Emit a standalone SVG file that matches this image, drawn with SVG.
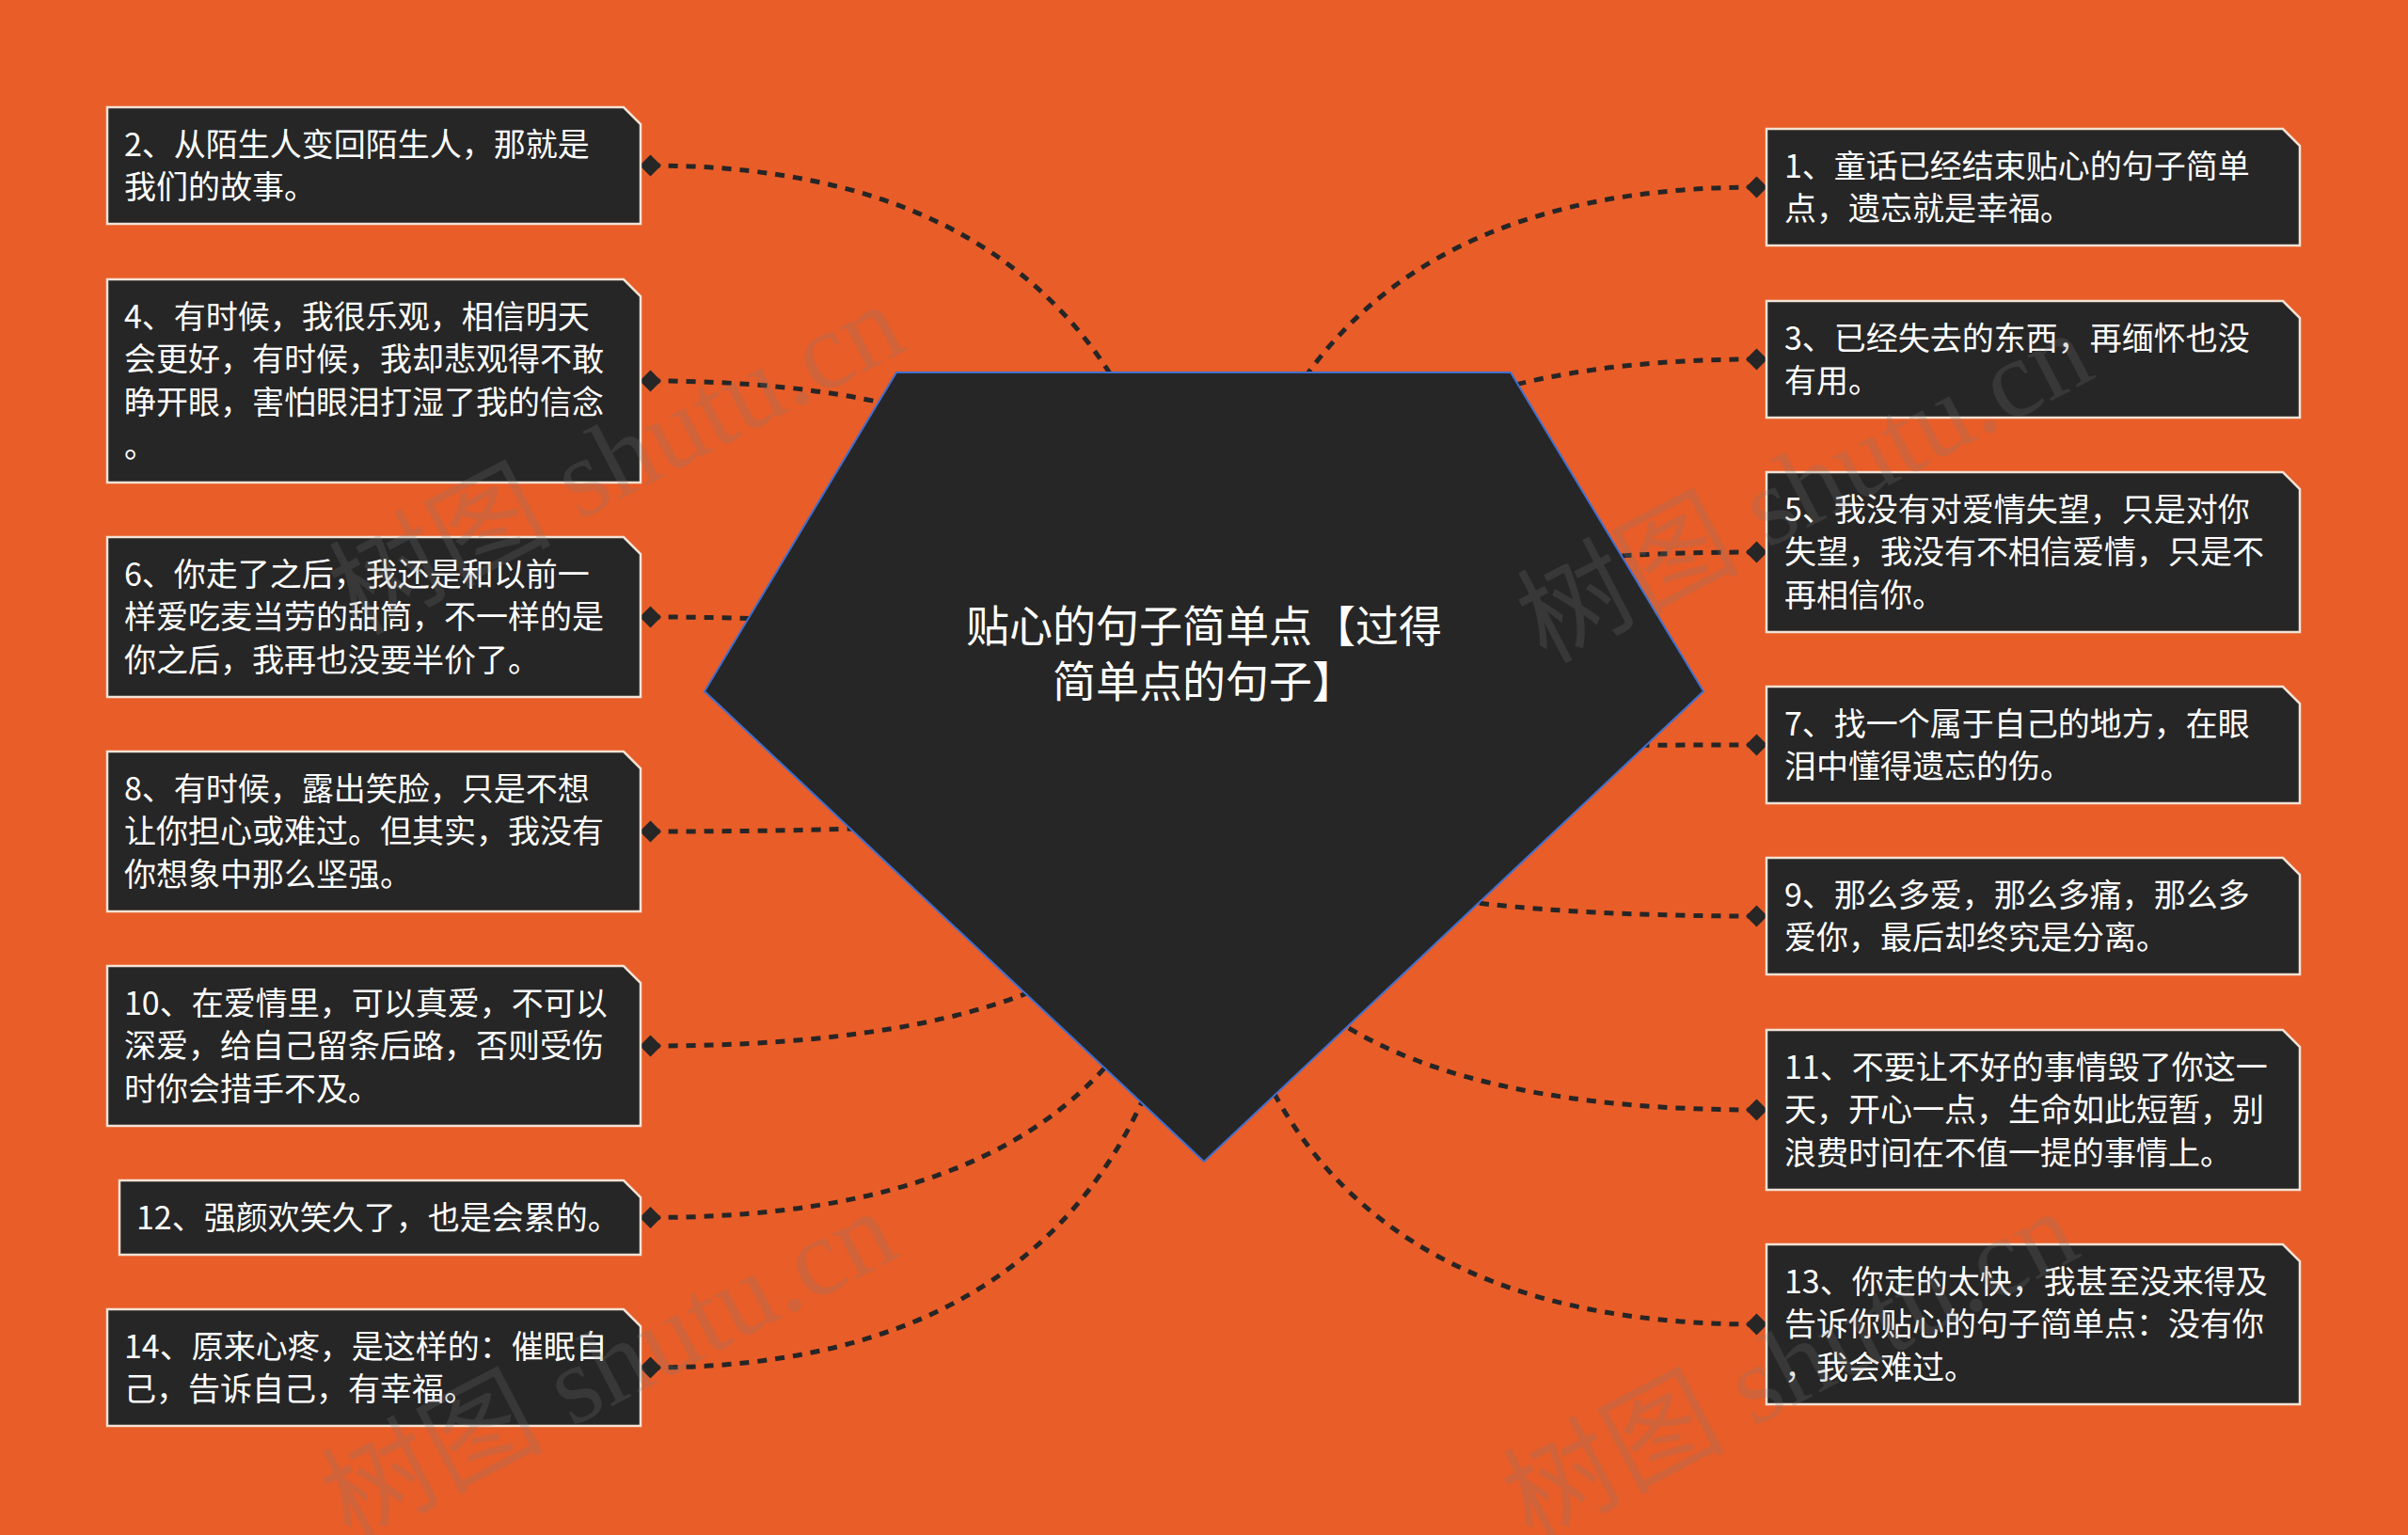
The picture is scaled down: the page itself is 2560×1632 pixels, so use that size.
<svg xmlns="http://www.w3.org/2000/svg" width="2560" height="1632" viewBox="0 0 2560 1632">
<defs>
<style>
.bg{fill:#E95D28}
.box{fill:#262626;stroke:#F3E2D4;stroke-width:2.5}
.t{font-family:"Noto Sans CJK SC","Noto Sans",sans-serif;font-size:34px;fill:#FFFFFF}
.ct{font-family:"Noto Sans CJK SC","Noto Sans",sans-serif;font-size:46px;fill:#FFFFFF;text-anchor:middle}
.link{fill:none;stroke:#262626;stroke-width:5;stroke-dasharray:10 9}
.dot{fill:#262626}
.wm{font-family:"Liberation Serif","Noto Sans CJK SC",serif;font-size:118px;fill:#7A7A7A;opacity:0.22}
</style>
</defs>
<rect class="bg" x="0" y="0" width="2560" height="1632"/>

<g id="connectors">
<path class="link" d="M691.5 176 Q1280 176 1280 815.5"/>
<path class="link" d="M691.5 405 Q1280 405 1280 815.5"/>
<path class="link" d="M691.5 656 Q1280 656 1280 815.5"/>
<path class="link" d="M691.5 884 Q1280 884 1280 815.5"/>
<path class="link" d="M691.5 1112 Q1280 1112 1280 815.5"/>
<path class="link" d="M691.5 1294.5 Q1280 1294.5 1280 815.5"/>
<path class="link" d="M691.5 1454 Q1280 1454 1280 815.5"/>
<path class="link" d="M1867.5 199 Q1280 199 1280 815.5"/>
<path class="link" d="M1867.5 382 Q1280 382 1280 815.5"/>
<path class="link" d="M1867.5 587 Q1280 587 1280 815.5"/>
<path class="link" d="M1867.5 792 Q1280 792 1280 815.5"/>
<path class="link" d="M1867.5 974 Q1280 974 1280 815.5"/>
<path class="link" d="M1867.5 1180 Q1280 1180 1280 815.5"/>
<path class="link" d="M1867.5 1408 Q1280 1408 1280 815.5"/>
<polygon class="dot" points="680,176 691.5,164.5 703,176 691.5,187.5"/>
<polygon class="dot" points="680,405 691.5,393.5 703,405 691.5,416.5"/>
<polygon class="dot" points="680,656 691.5,644.5 703,656 691.5,667.5"/>
<polygon class="dot" points="680,884 691.5,872.5 703,884 691.5,895.5"/>
<polygon class="dot" points="680,1112 691.5,1100.5 703,1112 691.5,1123.5"/>
<polygon class="dot" points="680,1294.5 691.5,1283 703,1294.5 691.5,1306"/>
<polygon class="dot" points="680,1454 691.5,1442.5 703,1454 691.5,1465.5"/>
<polygon class="dot" points="1856,199 1867.5,187.5 1879,199 1867.5,210.5"/>
<polygon class="dot" points="1856,382 1867.5,370.5 1879,382 1867.5,393.5"/>
<polygon class="dot" points="1856,587 1867.5,575.5 1879,587 1867.5,598.5"/>
<polygon class="dot" points="1856,792 1867.5,780.5 1879,792 1867.5,803.5"/>
<polygon class="dot" points="1856,974 1867.5,962.5 1879,974 1867.5,985.5"/>
<polygon class="dot" points="1856,1180 1867.5,1168.5 1879,1180 1867.5,1191.5"/>
<polygon class="dot" points="1856,1408 1867.5,1396.5 1879,1408 1867.5,1419.5"/>
</g>

<g id="center">
<polygon points="953,396 1606,396 1811,735 1280,1235 749,735" fill="#262626" stroke="#3F6FD0" stroke-width="2"/>
<text class="ct"><tspan x="1280" y="682">贴心的句子简单点【过得</tspan><tspan x="1280" y="741">简单点的句子】</tspan></text>
</g>

<g id="node2">
<path class="box" d="M114 114 H663 L681 132 V238 H114 Z"/>
<text class="t"><tspan x="132" y="165.5">2、从陌生人变回陌生人，那就是</tspan><tspan x="132" y="211.2">我们的故事。</tspan></text>
</g>
<g id="node4">
<path class="box" d="M114 297 H663 L681 315 V513 H114 Z"/>
<text class="t"><tspan x="132" y="348.5">4、有时候，我很乐观，相信明天</tspan><tspan x="132" y="394.2">会更好，有时候，我却悲观得不敢</tspan><tspan x="132" y="439.9">睁开眼，害怕眼泪打湿了我的信念</tspan><tspan x="132" y="485.6">。</tspan></text>
</g>
<g id="node6">
<path class="box" d="M114 571 H663 L681 589 V741 H114 Z"/>
<text class="t"><tspan x="132" y="622.5">6、你走了之后，我还是和以前一</tspan><tspan x="132" y="668.2">样爱吃麦当劳的甜筒，不一样的是</tspan><tspan x="132" y="713.9">你之后，我再也没要半价了。</tspan></text>
</g>
<g id="node8">
<path class="box" d="M114 799 H663 L681 817 V969 H114 Z"/>
<text class="t"><tspan x="132" y="850.5">8、有时候，露出笑脸，只是不想</tspan><tspan x="132" y="896.2">让你担心或难过。但其实，我没有</tspan><tspan x="132" y="941.9">你想象中那么坚强。</tspan></text>
</g>
<g id="node10">
<path class="box" d="M114 1027 H663 L681 1045 V1197 H114 Z"/>
<text class="t"><tspan x="132" y="1078.5">10、在爱情里，可以真爱，不可以</tspan><tspan x="132" y="1124.2">深爱，给自己留条后路，否则受伤</tspan><tspan x="132" y="1169.9">时你会措手不及。</tspan></text>
</g>
<g id="node12">
<path class="box" d="M127 1255 H663 L681 1273 V1334 H127 Z"/>
<text class="t" x="145" y="1306.5">12、强颜欢笑久了，也是会累的。</text>
</g>
<g id="node14">
<path class="box" d="M114 1392 H663 L681 1410 V1516 H114 Z"/>
<text class="t"><tspan x="132" y="1443.5">14、原来心疼，是这样的：催眠自</tspan><tspan x="132" y="1489.2">己，告诉自己，有幸福。</tspan></text>
</g>

<g id="node1">
<path class="box" d="M1878 137 H2427 L2445 155 V261 H1878 Z"/>
<text class="t"><tspan x="1897" y="188.5">1、童话已经结束贴心的句子简单</tspan><tspan x="1897" y="234.2">点，遗忘就是幸福。</tspan></text>
</g>
<g id="node3">
<path class="box" d="M1878 320 H2427 L2445 338 V444 H1878 Z"/>
<text class="t"><tspan x="1897" y="371.5">3、已经失去的东西，再缅怀也没</tspan><tspan x="1897" y="417.2">有用。</tspan></text>
</g>
<g id="node5">
<path class="box" d="M1878 502 H2427 L2445 520 V672 H1878 Z"/>
<text class="t"><tspan x="1897" y="553.5">5、我没有对爱情失望，只是对你</tspan><tspan x="1897" y="599.2">失望，我没有不相信爱情，只是不</tspan><tspan x="1897" y="644.9">再相信你。</tspan></text>
</g>
<g id="node7">
<path class="box" d="M1878 730 H2427 L2445 748 V854 H1878 Z"/>
<text class="t"><tspan x="1897" y="781.5">7、找一个属于自己的地方，在眼</tspan><tspan x="1897" y="827.2">泪中懂得遗忘的伤。</tspan></text>
</g>
<g id="node9">
<path class="box" d="M1878 912 H2427 L2445 930 V1036 H1878 Z"/>
<text class="t"><tspan x="1897" y="963.5">9、那么多爱，那么多痛，那么多</tspan><tspan x="1897" y="1009.2">爱你，最后却终究是分离。</tspan></text>
</g>
<g id="node11">
<path class="box" d="M1878 1095 H2427 L2445 1113 V1265 H1878 Z"/>
<text class="t"><tspan x="1897" y="1146.5">11、不要让不好的事情毁了你这一</tspan><tspan x="1897" y="1192.2">天，开心一点，生命如此短暂，别</tspan><tspan x="1897" y="1237.9">浪费时间在不值一提的事情上。</tspan></text>
</g>
<g id="node13">
<path class="box" d="M1878 1323 H2427 L2445 1341 V1493 H1878 Z"/>
<text class="t"><tspan x="1897" y="1374.5">13、你走的太快，我甚至没来得及</tspan><tspan x="1897" y="1420.2">告诉你贴心的句子简单点：没有你</tspan><tspan x="1897" y="1465.9">，我会难过。</tspan></text>
</g>

<g id="watermark">
<text class="wm" transform="translate(380 676) rotate(-27.5)">树图 shutu.cn</text>
<text class="wm" transform="translate(1643 706) rotate(-27.5)">树图 shutu.cn</text>
<text class="wm" transform="translate(372 1640) rotate(-27.5)">树图 shutu.cn</text>
<text class="wm" transform="translate(1628 1640) rotate(-27.5)">树图 shutu.cn</text>
</g>
</svg>
